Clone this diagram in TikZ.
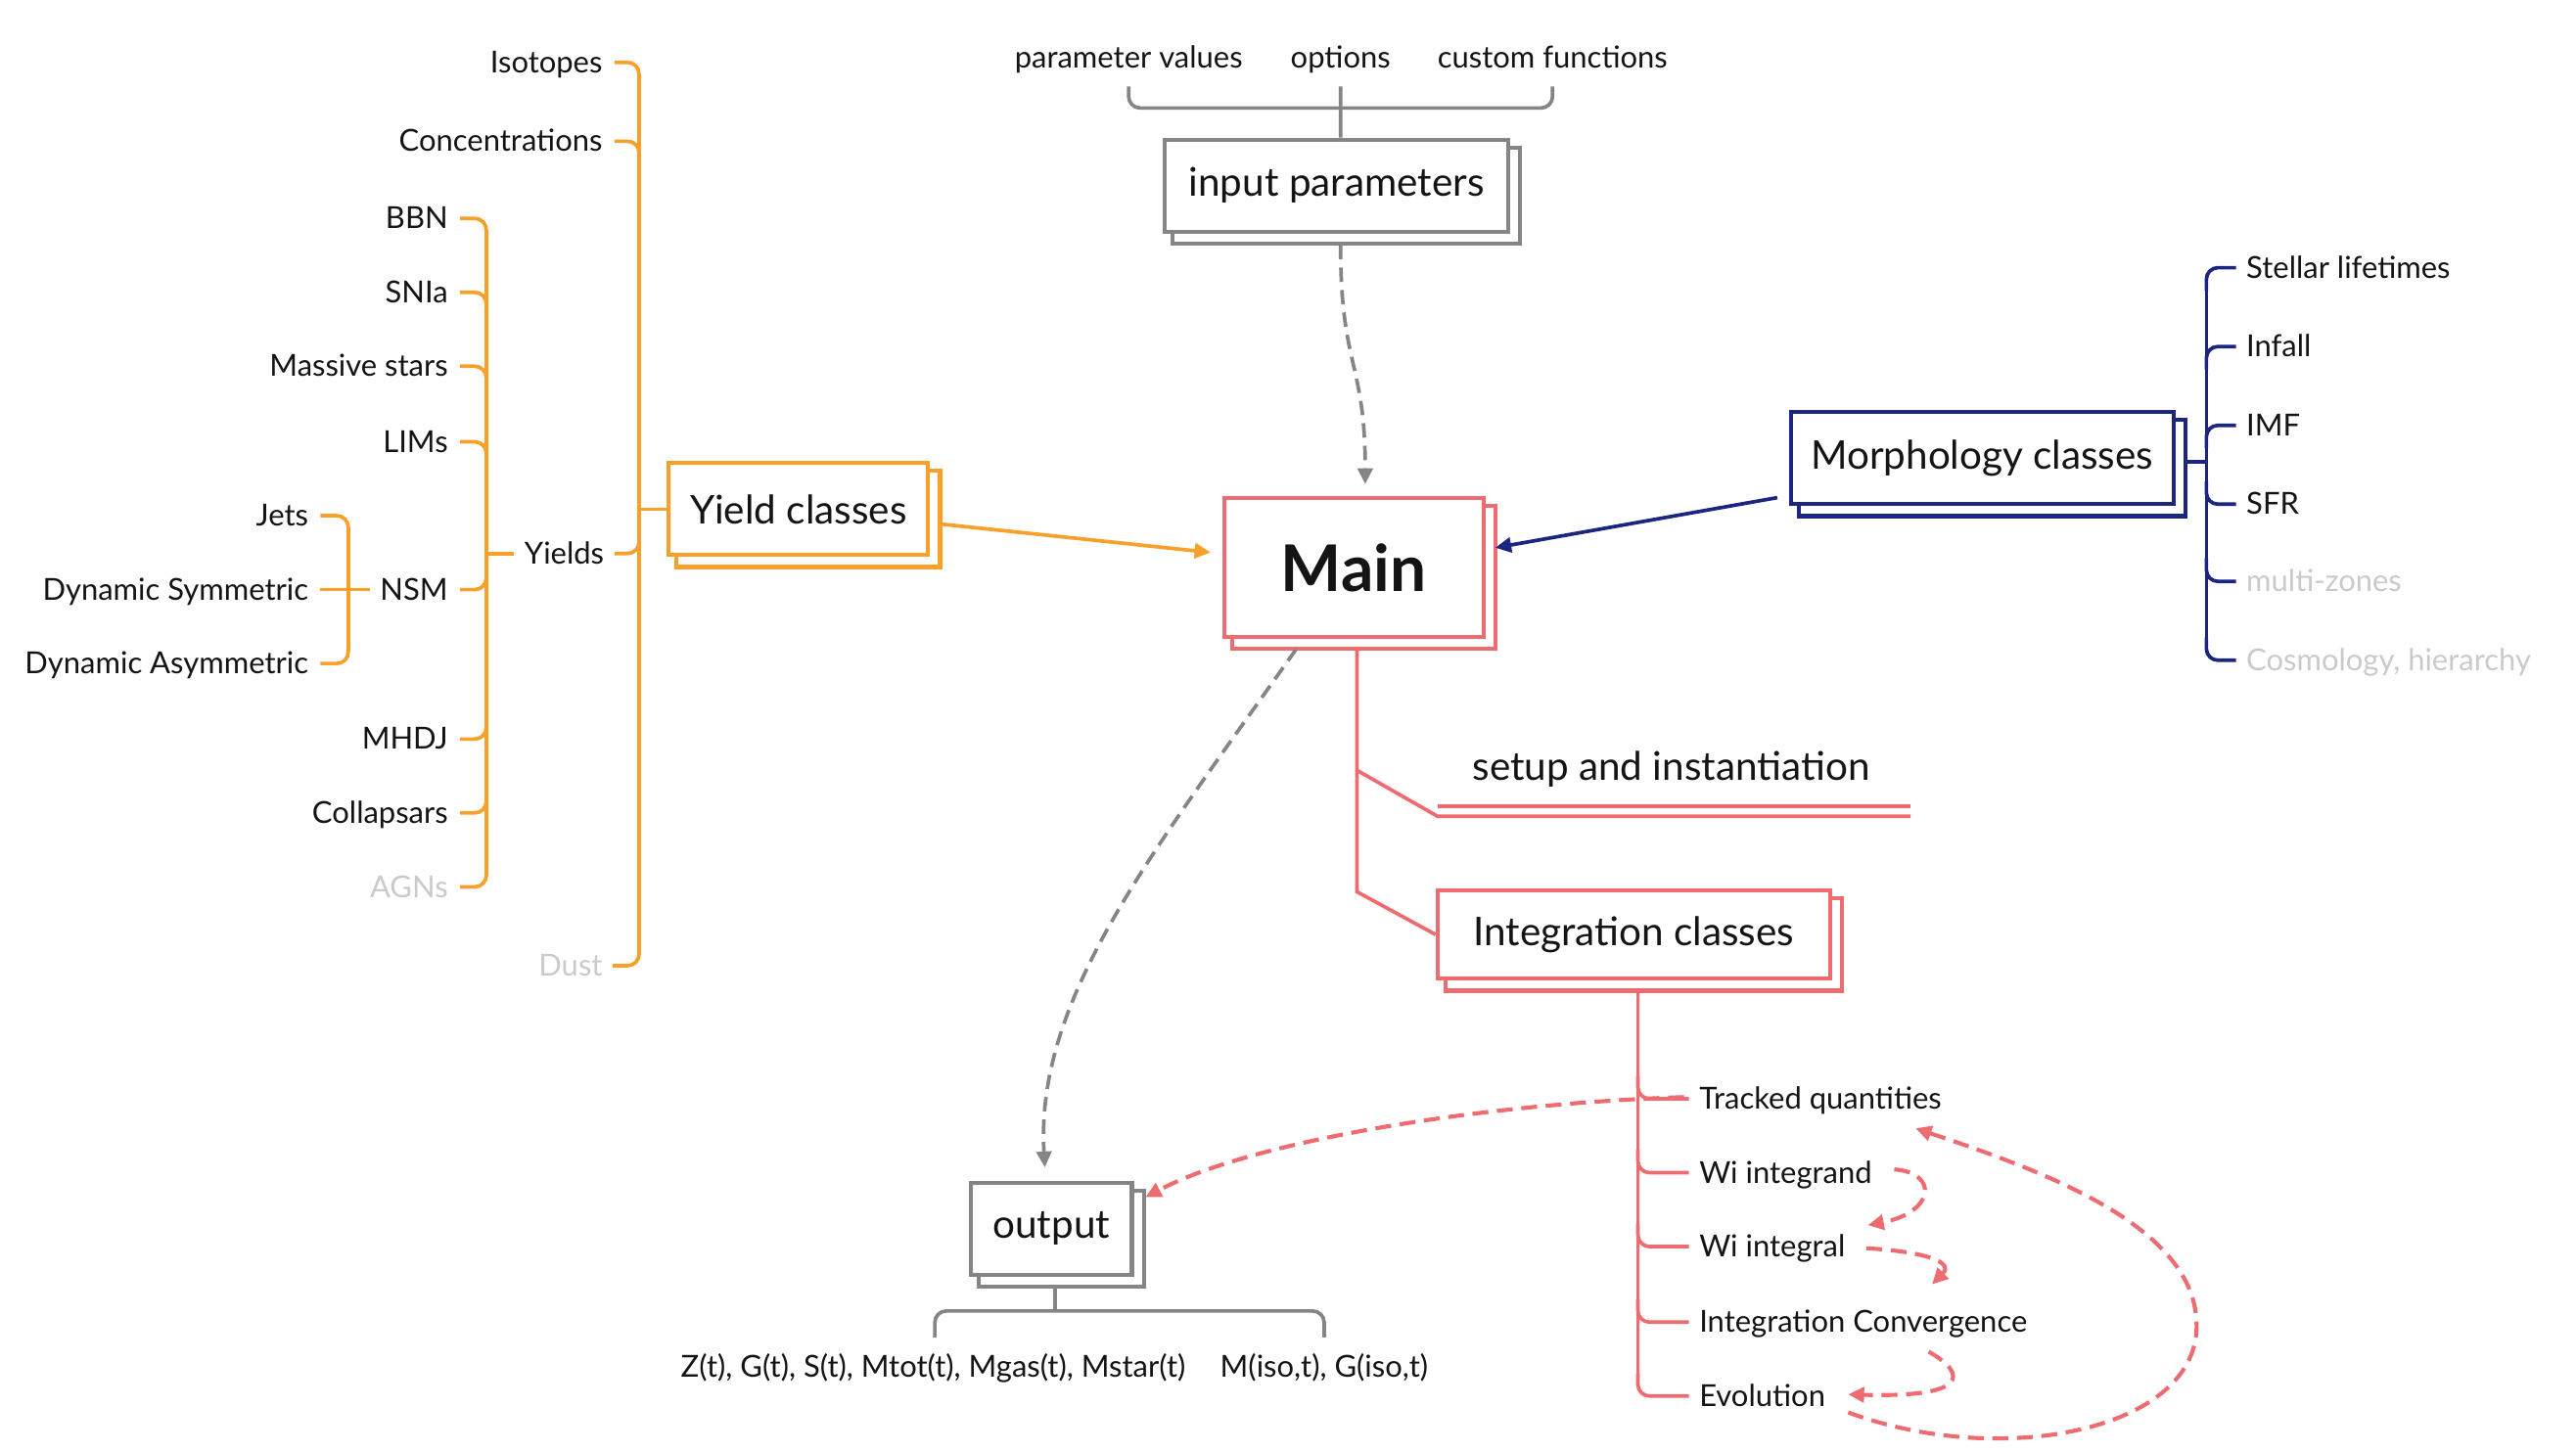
\documentclass[tikz,border=0pt]{standalone}
\usepackage{fontspec}
\setmainfont{Lato}
\usetikzlibrary{arrows.meta,backgrounds}
\definecolor{orng}{HTML}{F9A02A}
\definecolor{salm}{HTML}{EE6B6F}
\definecolor{navy}{HTML}{1C2580}
\definecolor{grl}{HTML}{858585}
\definecolor{lgt}{HTML}{CACACA}
\definecolor{ink}{HTML}{141414}
\tikzset{
  lbl/.style={inner sep=0pt, text height=0.72em, text depth=0pt, text=ink, font=\fontsize{10.5}{12}\selectfont},
  lblE/.style={lbl, anchor=east},
  lblW/.style={lbl, anchor=west},
  dimtext/.style={text=lgt},
  cbox/.style={draw=#1, fill=white, line width=1.4pt, inner sep=0pt, text=ink, font=\fontsize{13.7}{16}\selectfont},
  cshadow/.style={draw=#1, fill=white, line width=1.4pt},
  treeline/.style={draw=#1, line width=1.25pt, rounded corners=0.14cm},
  sharpline/.style={draw=#1, line width=1.25pt},
  arrowtip/.style={-{Triangle[length=5.5pt,width=5.2pt]}},
  gdash/.style={draw=grl, line width=1.25pt, dash pattern=on 5pt off 2.8pt, arrowtip},
  rdash/.style={draw=salm, line width=1.4pt, dash pattern=on 5.5pt off 3pt, arrowtip}
}
\begin{document}
\begin{tikzpicture}[x=0.02cm, y=-0.02cm]
\useasboundingbox (0,0) rectangle (1568,884);

% ---------- boxes ----------
\node[cbox=orng, minimum width=3.16cm, minimum height=1.12cm] (yield) at (486,310) {Yield classes};
\node[cbox=salm, minimum width=3.16cm, minimum height=1.7cm, font=\fontsize{22.3}{26}\selectfont\bfseries] (main) at (824,345.5) {Main};
\node[cbox=grl, minimum width=4.18cm, minimum height=1.12cm] (inp) at (813.5,113) {input parameters};
\node[cbox=navy, minimum width=4.66cm, minimum height=1.12cm] (morph) at (1206.5,279) {Morphology classes};
\node[cbox=salm, minimum width=4.78cm, minimum height=1.08cm] (integ) at (994.5,569) {Integration classes};
\node[cbox=grl, minimum width=1.96cm, minimum height=1.12cm] (outp) at (640,748) {output};

\begin{scope}[on background layer]
\foreach \n/\c in {yield/orng, main/salm, inp/grl, morph/navy, integ/salm, outp/grl}
  \draw[cshadow=\c] ([shift={(6,6)}]\n.south west) rectangle ([shift={(6,6)}]\n.north east);
\end{scope}

% ---------- orange tree ----------
\node[lblE] (iso) at (367,38) {Isotopes};
\node[lblE] (conc) at (367,86) {Concentrations};
\node[lblE] (yl) at (368,337) {Yields};
\node[lblE, dimtext] (dust) at (367,588) {Dust};
\node[lblE] (bbn) at (273,133) {BBN};
\node[lblE] (snia) at (273,178) {SNIa};
\node[lblE] (mass) at (273,223) {Massive stars};
\node[lblE] (lims) at (273,269) {LIMs};
\node[lblE] (nsm) at (273,359) {NSM};
\node[lblE] (mhdj) at (273,450) {MHDJ};
\node[lblE] (coll) at (273,495) {Collapsars};
\node[lblE, dimtext] (agn) at (273,540) {AGNs};
\node[lblE] (jets) at (188,314) {Jets};
\node[lblE] (dsym) at (188,359) {Dynamic Symmetric};
\node[lblE] (dasym) at (188,404) {Dynamic Asymmetric};

\coordinate (osp) at (389,0);
\coordinate (isp) at (296,0);
\coordinate (nsp) at (212,0);

\foreach \n in {iso,conc}
  \draw[treeline=orng] ([xshift=0.14cm]\n.east) -| ([shift={(0,14)}]\n.east -| osp);
\foreach \n in {yl,dust}
  \draw[treeline=orng] ([xshift=0.12cm]\n.east) -| ([shift={(0,-14)}]\n.east -| osp);
\draw[treeline=orng] ([shift={(0,7)}]iso.east -| osp) -- ([shift={(0,-7)}]dust.east -| osp);
\draw[sharpline=orng] (yield.west -| osp) -- (yield.west);

\foreach \n in {bbn,snia,mass,lims}
  \draw[treeline=orng] ([xshift=0.14cm]\n.east) -| ([shift={(0,14)}]\n.east -| isp);
\foreach \n in {nsm,mhdj,coll,agn}
  \draw[treeline=orng] ([xshift=0.14cm]\n.east) -| ([shift={(0,-14)}]\n.east -| isp);
\draw[treeline=orng] ([shift={(0,7)}]bbn.east -| isp) -- ([shift={(0,-7)}]agn.east -| isp);
\draw[sharpline=orng] ([xshift=-0.12cm]yl.west) -- (yl.west -| isp);

\draw[treeline=orng] ([xshift=0.14cm]jets.east) -| ([shift={(0,14)}]jets.east -| nsp);
\draw[treeline=orng] ([xshift=0.14cm]dasym.east) -| ([shift={(0,-14)}]dasym.east -| nsp);
\draw[treeline=orng] ([shift={(0,7)}]jets.east -| nsp) -- ([shift={(0,-7)}]dasym.east -| nsp);
\draw[sharpline=orng] ([xshift=0.14cm]dsym.east) -- ([xshift=-0.12cm]nsm.west);

% ---------- input parameters ----------
\node[lbl, anchor=center] (pv) at (687,35) {parameter values};
\node[lbl, anchor=center] (opt) at (816,35) {options};
\node[lbl, anchor=center] (cf) at (945,35) {custom functions};
\coordinate (ibr) at ([shift={(2.5,-18)}]inp.north);
\draw[sharpline=grl] ([shift={(0,11)}]opt.south) -- ([shift={(2.5,0)}]inp.north);
\draw[treeline=grl] ([shift={(0,11)}]pv.south) |- (ibr) -| ([shift={(0,11)}]cf.south);

% ---------- morphology tree ----------
\node[lblW] (stl) at (1367,163) {Stellar lifetimes};
\node[lblW] (inf) at (1367,211) {Infall};
\node[lblW] (imf) at (1367,259) {IMF};
\node[lblW] (sfr) at (1367,307) {SFR};
\node[lblW, dimtext] (mz) at (1367,354) {multi-zones};
\node[lblW, dimtext] (cos) at (1367,402) {Cosmology, hierarchy};
\coordinate (msp) at (1343,0);
\foreach \n in {stl,inf,imf}
  \draw[treeline=navy] ([xshift=-0.12cm]\n.west) -| ([shift={(0,14)}]\n.west -| msp);
\foreach \n in {sfr,mz,cos}
  \draw[treeline=navy] ([xshift=-0.12cm]\n.west) -| ([shift={(0,-14)}]\n.west -| msp);
\draw[treeline=navy] ([shift={(0,7)}]stl.west -| msp) -- ([shift={(0,-7)}]cos.west -| msp);
\coordinate (mj) at ([shift={(6,2)}]morph.east);
\draw[sharpline=navy] (mj) -- (mj -| msp);

% ---------- main branches ----------
\node[lblW, font=\fontsize{13.7}{16}\selectfont] (setup) at (896,469) {setup and instantiation};
\coordinate (msb) at ([shift={(2,6)}]main.south);
\coordinate (su) at ([shift={(-21,28)}]setup.west);
\coordinate (su2) at ([shift={(-21,22)}]setup.west);
\draw[sharpline=salm] (msb) -- ([shift={(0,-26)}]integ.west -| msb) -- (integ.west);
\draw[sharpline=salm] (setup.west -| msb) -- (su) -- ([shift={(267,28)}]setup.west);
\draw[sharpline=salm] (su2) -- ([shift={(267,22)}]setup.west);

% ---------- integration tree ----------
\node[lblW] (tq) at (1034,669) {Tracked quantities};
\node[lblW] (wig) at (1034,714) {Wi integrand};
\node[lblW] (wil) at (1034,759) {Wi integral};
\node[lblW] (icv) at (1034,805) {Integration Convergence};
\node[lblW] (evo) at (1034,850) {Evolution};
\coordinate (gsp) at ([shift={(2.5,6)}]integ.south);
\foreach \n in {tq,wig,wil,icv,evo}
  \draw[treeline=salm] ([xshift=-0.12cm]\n.west) -| ([shift={(0,-14)}]\n.west -| gsp);
\draw[treeline=salm] (gsp) -- ([shift={(0,-7)}]evo.west -| gsp);

% ---------- output ----------
\node[lbl, anchor=center] (zt) at (568,832) {Z(t), G(t), S(t), Mtot(t), Mgas(t), Mstar(t)};
\node[lbl, anchor=center] (miso) at (806,832) {M(iso,t), G(iso,t)};
\coordinate (obr) at ([shift={(2,21)}]outp.south);
\draw[sharpline=grl] ([shift={(2,6)}]outp.south) -- (obr);
\draw[treeline=grl] ([shift={(1,-11)}]zt.north) |- (obr) -| ([shift={(0,-11)}]miso.north);

% ---------- arrows ----------
\draw[sharpline=orng, arrowtip, shorten <=0.12cm, shorten >=0.14cm] (yield) -- (main);
\draw[sharpline=navy, arrowtip] ([shift={(-7,24)}]morph.west) -- ([shift={(6,-12)}]main.east);
\draw[gdash] ([shift={(2.5,7)}]inp.south) .. controls +(0,75) and +(0,-75) .. ([shift={(7,-7)}]main.north);
\draw[gdash] ([shift={(-35,6)}]main.south) .. controls +(-89,126) and +(-6,-102) .. ([shift={(-4,-8)}]outp.north);
\draw[rdash] ([shift={(-9,-1)}]tq.west) .. controls +(-125,4) and +(64,-34) .. ([shift={(7,-19)}]outp.east);
\draw[rdash] ([shift={(119,-2)}]wig.west) .. controls +(27,2) and +(41,-8) .. ([shift={(103,-13)}]wil.west);
\draw[rdash] ([shift={(102,1)}]wil.west) .. controls +(34,2) and +(14,-14) .. ([shift={(142,-23)}]icv.west);
\draw[rdash] ([shift={(140,18)}]icv.west) .. controls +(26,15) and +(70,2) .. ([shift={(91,-1)}]evo.west);
\coordinate (loopR) at (1337,805);
\draw[rdash] ([shift={(91,10)}]evo.west) .. controls +(95,35) and +(3,65) .. (loopR)
  .. controls +(-2,-60) and +(74,25) .. ([shift={(132,18)}]tq.west);
\end{tikzpicture}
\end{document}
